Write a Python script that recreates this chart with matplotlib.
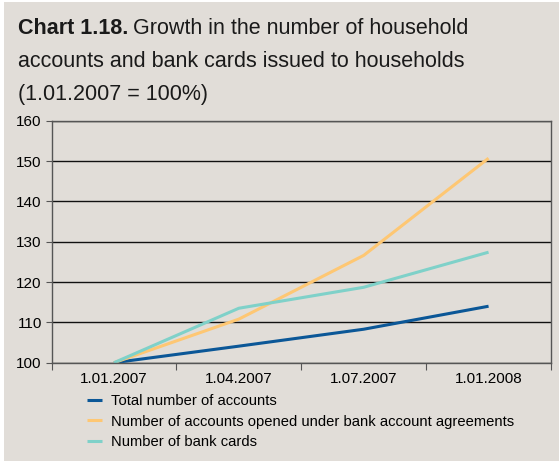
import matplotlib.pyplot as plt
import numpy as np
from matplotlib.patches import Rectangle

dates = ['1.01.2007', '1.04.2007', '1.07.2007', '1.01.2008']
total_accounts = [100, 104.1, 108.3, 114.0]
agreement_accounts = [100, 110.8, 126.6, 150.7]
bank_cards = [100, 113.5, 118.7, 127.4]
series_names = ['Total number of accounts',
                'Number of accounts opened under bank account agreements',
                'Number of bank cards']

bg = '#e1ddd8'
plt.rcParams['font.family'] = ['Liberation Sans', 'DejaVu Sans']

fig = plt.figure(figsize=(5.59, 4.61), dpi=100, facecolor='white')
fig.patches.append(Rectangle((4 / 559, 0), 1, 1 - 2 / 461, transform=fig.transFigure,
                             facecolor=bg, edgecolor='none', zorder=-10))

ax = fig.add_axes([51.5 / 559, 1 - 362.7 / 461, (551 - 51.5) / 559, (362.7 - 120.7) / 461])
ax.set_facecolor(bg)

x = np.arange(len(dates))
ax.plot(x, total_accounts, color='#0b5797', lw=2.2, label=series_names[0], solid_capstyle='butt')
ax.plot(x, agreement_accounts, color='#fec773', lw=2.2, label=series_names[1], solid_capstyle='butt')
ax.plot(x, bank_cards, color='#7fd1c9', lw=2.2, label=series_names[2], solid_capstyle='butt')

ax.set_xlim(-0.5, 3.5)
ax.set_ylim(100, 160)
ax.set_yticks(np.arange(100, 161, 10))
ax.set_xticks(np.arange(-0.5, 3.6, 1))
ax.set_xticklabels([])
ax.set_xticks(x, minor=True)
ax.set_xticklabels(dates, minor=True)
ax.tick_params(axis='x', which='minor', length=0, labelsize=11, pad=7)
ax.tick_params(axis='x', which='major', length=5, direction='out', color='#555555')
ax.tick_params(axis='y', labelsize=11, length=4, direction='out', color='#555555', pad=3)
ax.yaxis.grid(True, color='#111111', lw=1.0)
ax.set_axisbelow(True)
for s in ax.spines.values():
    s.set_color('#555555')
    s.set_linewidth(1.0)

leg = ax.legend(loc='upper left', bbox_to_anchor=(0.06, -0.105), frameon=False,
                fontsize=10.6, handlelength=1.0, handletextpad=0.6, labelspacing=0.45,
                borderaxespad=0)

title_size = 15.5
t1 = fig.text(18 / 559, 1 - 34 / 461, 'Chart 1.18.', fontsize=title_size, fontweight='bold',
              va='baseline', ha='left', color='#1a1a1a')
r = fig.canvas.get_renderer()
bb = t1.get_window_extent(renderer=r)
fig.text(bb.x1 / 559 + 5 / 559, 1 - 34 / 461, 'Growth in the number of household',
         fontsize=title_size, va='baseline', ha='left', color='#1a1a1a')
fig.text(18 / 559, 1 - 67 / 461, 'accounts and bank cards issued to households',
         fontsize=title_size, va='baseline', ha='left', color='#1a1a1a')
fig.text(18 / 559, 1 - 100 / 461, '(1.01.2007 = 100%)',
         fontsize=title_size, va='baseline', ha='left', color='#1a1a1a')

fig.savefig('out.png', dpi=100, facecolor='white')
